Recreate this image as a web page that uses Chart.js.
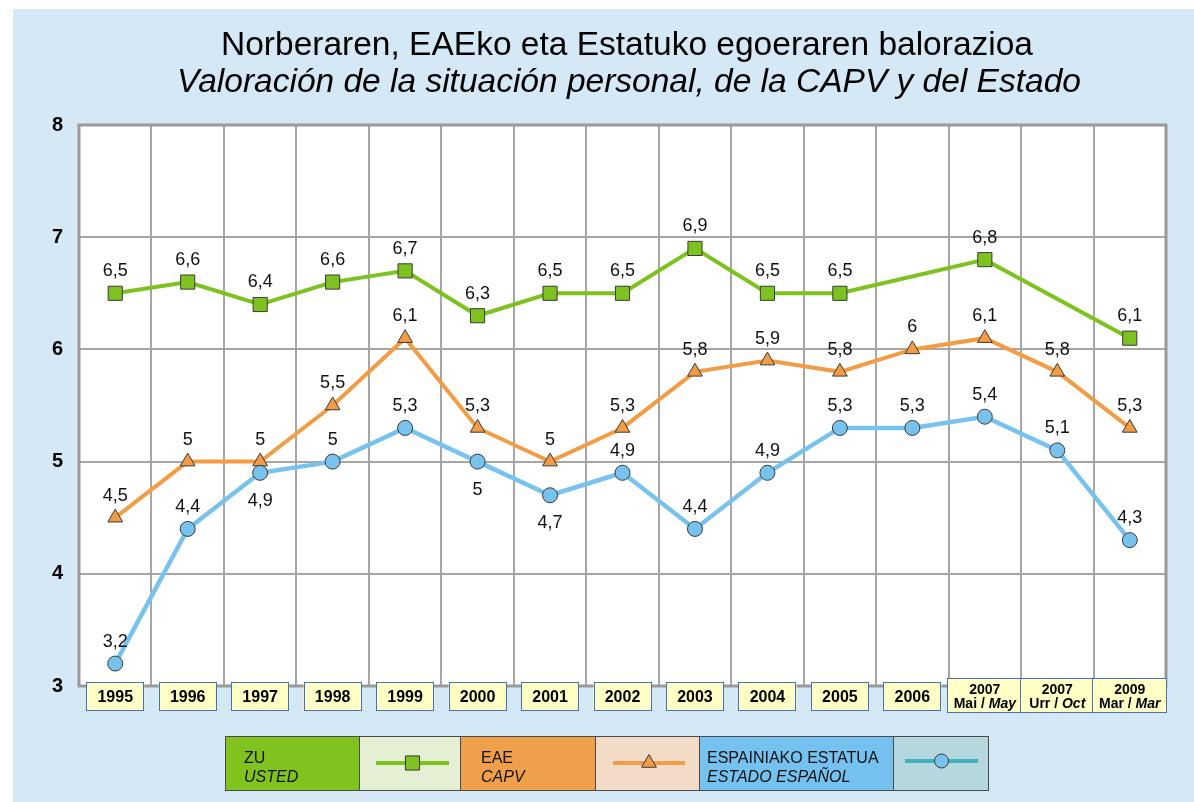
<!DOCTYPE html>
<html>
<head>
<meta charset="utf-8">
<title>Norberaren, EAEko eta Estatuko egoeraren balorazioa</title>
<script src="https://cdn.jsdelivr.net/npm/chart.js@4.4.1/dist/chart.umd.min.js"></script>
<style>
    html, body { margin: 0; padding: 0; background: #ffffff; }
    #wrap { position: relative; width: 1194px; height: 802px; }
</style>
</head>
<body>
<div id="wrap"><canvas id="valoracionChart" width="1194" height="802"></canvas></div>
<script>
// Categories (x axis)
const years = ['1995', '1996', '1997', '1998', '1999', '2000', '2001', '2002', '2003', '2004', '2005', '2006', '2007', '2007', '2009'];
const monthsEu = ['', '', '', '', '', '', '', '', '', '', '', '', 'Mai', 'Urr', 'Mar'];
const monthsEs = ['', '', '', '', '', '', '', '', '', '', '', '', 'May', 'Oct', 'Mar'];

// Series values
const ustedValues  = [6.5, 6.6, 6.4, 6.6, 6.7, 6.3, 6.5, 6.5, 6.9, 6.5, 6.5, null, 6.8, null, 6.1];
const capvValues   = [4.5, 5, 5, 5.5, 6.1, 5.3, 5, 5.3, 5.8, 5.9, 5.8, 6, 6.1, 5.8, 5.3];
const estadoValues = [3.2, 4.4, 4.9, 5, 5.3, 5, 4.7, 4.9, 4.4, 4.9, 5.3, 5.3, 5.4, 5.1, 4.3];

// Y axis ticks
const yTicks = [3, 4, 5, 6, 7, 8];

// Legend names (basque / spanish)
const namesEu = ['ZU', 'EAE', 'ESPAINIAKO ESTATUA'];
const namesEs = ['USTED', 'CAPV', 'ESTADO ESPAÑOL'];

const titleEu = 'Norberaren, EAEko eta Estatuko egoeraren balorazioa';
const titleEs = 'Valoración de la situación personal, de la CAPV y del Estado';

const FONT = "'Liberation Sans', Arial, sans-serif";

// which estado labels go under the point
const estadoBelow = [2, 5, 6];

const fmt = (v) => String(v).replace('.', ',');

// background, white plot area, title
const backgroundPlugin = {
    id: 'background',
    beforeDraw(chart) {
        const ctx = chart.ctx;
        const a = chart.chartArea;
        ctx.save();
        ctx.fillStyle = '#d5e8f5';
        ctx.fillRect(13, 9, chart.width - 13, chart.height - 9);
        ctx.fillStyle = '#ffffff';
        ctx.fillRect(a.left, a.top, a.right - a.left, a.bottom - a.top);

        ctx.fillStyle = '#000000';
        ctx.textAlign = 'center';
        ctx.textBaseline = 'alphabetic';
        ctx.font = '33.5px ' + FONT;
        ctx.fillText(titleEu, 627, 55);
        ctx.font = 'italic 33.5px ' + FONT;
        ctx.fillText(titleEs, 629, 92);
        ctx.restore();
    },
    beforeDatasetsDraw(chart) {
        // plot frame
        const ctx = chart.ctx;
        const a = chart.chartArea;
        ctx.save();
        ctx.strokeStyle = '#999999';
        ctx.lineWidth = 3;
        ctx.strokeRect(a.left, a.top, a.right - a.left, a.bottom - a.top);
        ctx.restore();
    }
};

// value labels next to the points
const valueLabelPlugin = {
    id: 'valueLabels',
    afterDatasetsDraw(chart) {
        const ctx = chart.ctx;
        ctx.save();
        ctx.fillStyle = '#111111';
        ctx.font = '18px ' + FONT;
        ctx.textAlign = 'center';
        ctx.textBaseline = 'middle';
        chart.data.datasets.forEach((ds, d) => {
            const meta = chart.getDatasetMeta(d);
            ds.data.forEach((v, i) => {
                if (v === null) return;
                const pt = meta.data[i];
                let y = pt.y - 22;
                if (ds.label === namesEu[2] && estadoBelow.includes(i)) {
                    y = pt.y + 28;
                }
                ctx.fillText(fmt(v), pt.x, y);
            });
        });
        ctx.restore();
    }
};

// yellow year boxes under the axis + legend table
const boxesPlugin = {
    id: 'yearBoxes',
    afterDraw(chart) {
        const ctx = chart.ctx;
        const xs = chart.scales.x;
        ctx.save();
        years.forEach((yr, i) => {
            const cx = xs.getPixelForValue(i);
            const wide = monthsEu[i] !== '';
            const w = wide ? 75 : 58;
            const h = wide ? 35 : 29;
            const top = wide ? 678 : 682;
            ctx.fillStyle = '#ffffc6';
            ctx.fillRect(cx - w / 2, top, w, h);
            ctx.strokeStyle = '#4672b4';
            ctx.lineWidth = 1;
            ctx.strokeRect(Math.round(cx - w / 2) + 0.5, top + 0.5, w - 1, h - 1);

            ctx.fillStyle = '#000000';
            ctx.textBaseline = 'middle';
            ctx.textAlign = 'center';
            if (!wide) {
                ctx.font = 'bold 16px ' + FONT;
                ctx.fillText(yr, cx, top + 16);
            } else {
                ctx.font = 'bold 14px ' + FONT;
                ctx.fillText(yr, cx, top + 12);
                const a = monthsEu[i] + ' / ';
                const b = monthsEs[i];
                ctx.font = 'bold 14px ' + FONT;
                const wa = ctx.measureText(a).width;
                ctx.font = 'italic bold 14px ' + FONT;
                const wb = ctx.measureText(b).width;
                let x0 = cx - (wa + wb) / 2;
                ctx.textAlign = 'left';
                ctx.font = 'bold 14px ' + FONT;
                ctx.fillText(a, x0, top + 26);
                ctx.font = 'italic bold 14px ' + FONT;
                ctx.fillText(b, x0 + wa, top + 26);
            }
        });

        // legend table
        const cells = [
            { x: 225, w: 134, fill: '#80c31f' },
            { x: 359, w: 101, fill: '#e5efd4' },
            { x: 460, w: 135, fill: '#f09f4a' },
            { x: 595, w: 104, fill: '#f3dcc7' },
            { x: 699, w: 194, fill: '#75c1ef' },
            { x: 893, w: 95, fill: '#b5d8de' }
        ];
        const top = 736, h = 54;
        cells.forEach((c) => {
            ctx.fillStyle = c.fill;
            ctx.fillRect(c.x, top, c.w, h);
            ctx.strokeStyle = '#4a4a4a';
            ctx.lineWidth = 1;
            ctx.strokeRect(c.x + 0.5, top + 0.5, c.w, h);
        });
        const textX = [244, 481, 707];
        ctx.fillStyle = '#111111';
        ctx.textAlign = 'left';
        ctx.textBaseline = 'alphabetic';
        for (let k = 0; k < 3; k++) {
            ctx.font = '16px ' + FONT;
            ctx.fillText(namesEu[k], textX[k], 763);
            ctx.font = 'italic 16px ' + FONT;
            ctx.fillText(namesEs[k], textX[k], 782);
        }

        // swatches
        const sw = [
            { x1: 376, x2: 449, y: 763, line: '#7ec220', fill: '#7ec220', style: 'rect', r: 10 },
            { x1: 613, x2: 685, y: 763, line: '#f29d45', fill: '#f29d45', style: 'triangle', r: 8.5 },
            { x1: 905, x2: 978, y: 761, line: '#3fb1c1', fill: '#77c3ee', style: 'circle', r: 7 }
        ];
        sw.forEach((s) => {
            ctx.strokeStyle = s.line;
            ctx.lineWidth = 4;
            ctx.beginPath();
            ctx.moveTo(s.x1, s.y);
            ctx.lineTo(s.x2, s.y);
            ctx.stroke();
            ctx.fillStyle = s.fill;
            ctx.strokeStyle = '#3a3a3a';
            ctx.lineWidth = 1;
            Chart.helpers.drawPoint(ctx, { pointStyle: s.style, radius: s.r, rotation: 0, borderWidth: 1 }, (s.x1 + s.x2) / 2, s.y);
        });
        ctx.restore();
    }
};

const ctx = document.getElementById('valoracionChart').getContext('2d');

const valoracionChart = new Chart(ctx, {
    type: 'line',
    data: {
        labels: years,
        datasets: [
            {
                label: namesEu[0],
                data: ustedValues,
                borderColor: '#7ec220',
                backgroundColor: '#7ec220',
                borderWidth: 4,
                pointStyle: 'rect',
                pointRadius: 10,
                pointBorderColor: '#3a3a3a',
                pointBorderWidth: 1,
                spanGaps: true,
                tension: 0,
                order: 3
            },
            {
                label: namesEu[1],
                data: capvValues,
                borderColor: '#f29d45',
                backgroundColor: '#f29d45',
                borderWidth: 4,
                pointStyle: 'triangle',
                pointRadius: 8.5,
                pointBorderColor: '#3a3a3a',
                pointBorderWidth: 1,
                tension: 0,
                order: 2
            },
            {
                label: namesEu[2],
                data: estadoValues,
                borderColor: '#77c3ee',
                backgroundColor: '#77c3ee',
                borderWidth: 4.5,
                pointStyle: 'circle',
                pointRadius: 7.5,
                pointBorderColor: '#3a3a3a',
                pointBorderWidth: 1,
                tension: 0,
                order: 1
            }
        ]
    },
    options: {
        responsive: false,
        animation: false,
        devicePixelRatio: 1,
        layout: {
            padding: { top: 125, left: 13, right: 28, bottom: 0 }
        },
        scales: {
            x: {
                offset: true,
                grid: {
                    offset: true,
                    color: '#a6a6a6',
                    lineWidth: 2,
                    drawTicks: false
                },
                border: { display: false },
                ticks: { display: false },
                afterFit(scale) { scale.height = 116; }
            },
            y: {
                min: yTicks[0],
                max: yTicks[yTicks.length - 1],
                afterBuildTicks(scale) { scale.ticks = yTicks.map((v) => ({ value: v })); },
                grid: {
                    color: '#a6a6a6',
                    lineWidth: 2,
                    drawTicks: false
                },
                border: { display: false },
                ticks: {
                    color: '#000000',
                    padding: 16,
                    font: { family: FONT, size: 20, weight: 'bold' }
                },
                afterFit(scale) { scale.width = 66; }
            }
        },
        plugins: {
            legend: { display: false },
            tooltip: { enabled: false }
        }
    },
    plugins: [backgroundPlugin, valueLabelPlugin, boxesPlugin]
});
</script>
</body>
</html>
